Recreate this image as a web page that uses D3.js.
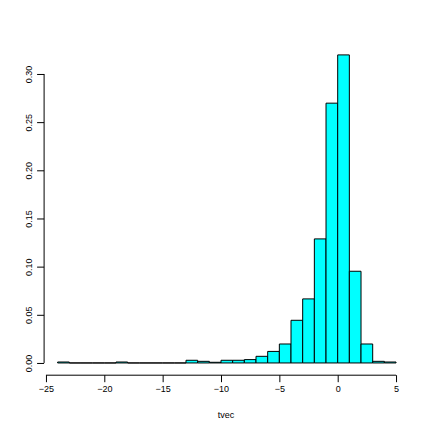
<!DOCTYPE html>
<html>
<head>
<meta charset="utf-8">
<script src="https://cdn.jsdelivr.net/npm/d3@7"></script>
<style>
  html, body { margin: 0; padding: 0; background: #fff; }
  svg text { font-family: "Liberation Sans", Helvetica, Arial, sans-serif; fill: #000; }
</style>
</head>
<body>
<div id="chart"></div>
<script>
// histogram of tvec, unit-width bins from -24 to 5 (density)
const binStarts = [-24, -23, -22, -21, -20, -19, -18, -17, -16, -15, -14, -13, -12, -11, -10,
                   -9, -8, -7, -6, -5, -4, -3, -2, -1, 0, 1, 2, 3, 4];
const density = [0.001, 0, 0, 0, 0, 0.001, 0, 0, 0, 0, 0, 0.0028, 0.0017, 0.0007, 0.0028,
                 0.0028, 0.0035, 0.0069, 0.012, 0.0197, 0.0443, 0.0665, 0.1288, 0.2697, 0.3198,
                 0.0952, 0.0197, 0.0017, 0.001];
const binWidth = 1;
const xTicks = [-25, -20, -15, -10, -5, 0, 5];
const yTicks = [0.00, 0.05, 0.10, 0.15, 0.20, 0.25, 0.30];
const xLabel = "tvec";

const W = 432, H = 432;
const FONT = 9;
const svg = d3.select('#chart').append('svg')
  .attr('width', W).attr('height', H);

// R-style 4% padding around the data range
const x = d3.scaleLinear().domain([-25.16, 5.16]).range([44.1, 397.9]);
const y = d3.scaleLinear().domain([-0.0127, 0.3307]).range([375.2, 44.4]);

const bars = binStarts.map((b, i) => ({ x0: b, x1: b + binWidth, v: density[i] }));

// drawn as paths so empty bins still leave their outline on the baseline
svg.append('g').selectAll('path')
  .data(bars)
  .enter()
  .append('path')
  .attr('d', d => `M${x(d.x0)},${y(0)}H${x(d.x1)}V${y(d.v)}H${x(d.x0)}Z`)
  .attr('fill', '#00ffff')
  .attr('stroke', '#000')
  .attr('stroke-width', 1);

// x axis at bottom of plot region
const xAxisY = y.range()[0];
const xAxis = d3.axisBottom(x).tickValues(xTicks).tickSize(7).tickPadding(3)
  .tickFormat(d => d < 0 ? '\u2212' + Math.abs(d) : d);
svg.append('g')
  .attr('transform', `translate(0,${xAxisY})`)
  .call(xAxis)
  .attr('font-size', FONT)
  .attr('font-family', null)
  .call(g => g.select('.domain').remove())
  .call(g => g.append('line')
    .attr('x1', x(xTicks[0])).attr('x2', x(xTicks[xTicks.length - 1]))
    .attr('stroke', '#000'));

// y axis at left of plot region
const yAxisX = x.range()[0];
const yAxis = d3.axisLeft(y).tickValues(yTicks).tickSize(7)
  .tickFormat(d3.format('.2f'));
const gy = svg.append('g')
  .attr('transform', `translate(${yAxisX},0)`)
  .call(yAxis)
  .attr('font-size', FONT)
  .attr('font-family', null)
  .call(g => g.select('.domain').remove())
  .call(g => g.append('line')
    .attr('y1', y(yTicks[0])).attr('y2', y(yTicks[yTicks.length - 1]))
    .attr('stroke', '#000'));
gy.selectAll('.tick text')
  .attr('x', null)
  .attr('text-anchor', 'middle')
  .attr('transform', 'translate(-15,0) rotate(-90)')
  .attr('dy', '0.35em');

// axis title
svg.append('text')
  .attr('x', 226).attr('y', 418)
  .attr('text-anchor', 'middle')
  .attr('font-size', FONT)
  .text(xLabel);
</script>
</body>
</html>
